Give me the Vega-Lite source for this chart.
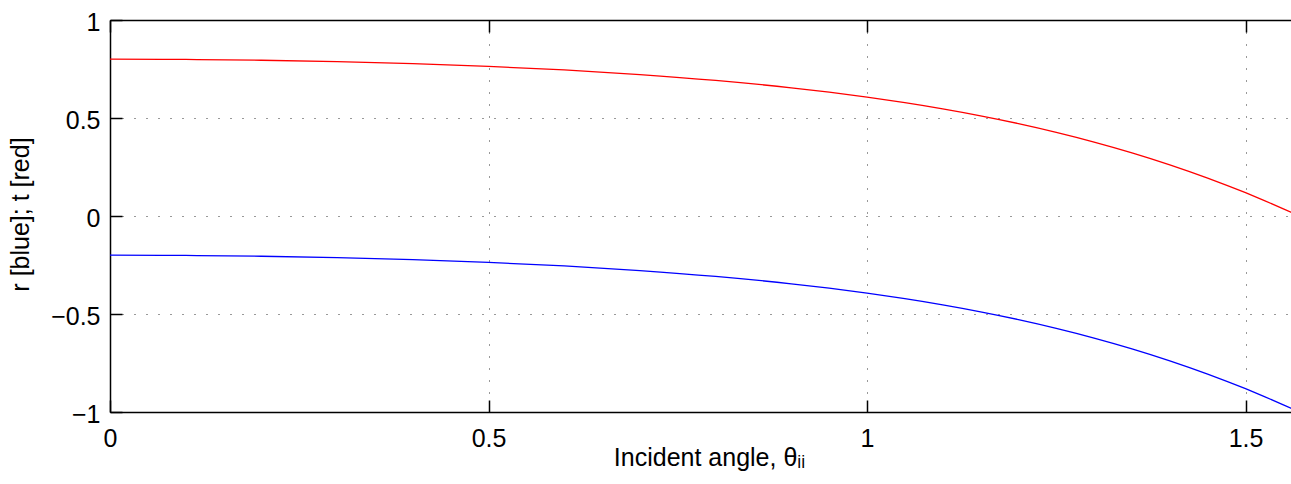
{
  "$schema": "https://vega.github.io/schema/vega-lite/v6.json",
  "autosize": "none",
  "padding": {"left": 110, "top": 20, "right": 0, "bottom": 72},
  "width": 1181,
  "height": 392,
  "background": "white",
  "config": {
    "view": {"stroke": null},
    "axis": {
      "domainColor": "#000",
      "domainWidth": 1.5,
      "tickColor": "#000",
      "tickWidth": 1.5,
      "tickSize": -12,
      "labelFont": "Liberation Sans",
      "labelFontSize": 25,
      "labelColor": "#000",
      "labelFlush": false,
      "titleFont": "Liberation Sans",
      "titleFontSize": 25,
      "titleFontWeight": "normal",
      "titleColor": "#000",
      "gridColor": "#000",
      "gridDash": [1, 11],
      "gridWidth": 1,
      "gridOpacity": 0.8
    }
  },
  "data": {
    "values": [
      {"theta": 0, "value": -0.2, "series": "r"},
      {"theta": 0.1, "value": -0.20134, "series": "r"},
      {"theta": 0.2, "value": -0.20541, "series": "r"},
      {"theta": 0.3, "value": -0.2124, "series": "r"},
      {"theta": 0.4, "value": -0.22261, "series": "r"},
      {"theta": 0.5, "value": -0.23652, "series": "r"},
      {"theta": 0.6, "value": -0.25478, "series": "r"},
      {"theta": 0.7, "value": -0.27827, "series": "r"},
      {"theta": 0.8, "value": -0.30815, "series": "r"},
      {"theta": 0.9, "value": -0.34596, "series": "r"},
      {"theta": 0.95, "value": -0.36842, "series": "r"},
      {"theta": 1.0, "value": -0.39362, "series": "r"},
      {"theta": 1.05, "value": -0.42187, "series": "r"},
      {"theta": 1.1, "value": -0.45355, "series": "r"},
      {"theta": 1.15, "value": -0.48901, "series": "r"},
      {"theta": 1.2, "value": -0.52868, "series": "r"},
      {"theta": 1.25, "value": -0.57301, "series": "r"},
      {"theta": 1.3, "value": -0.62247, "series": "r"},
      {"theta": 1.35, "value": -0.67752, "series": "r"},
      {"theta": 1.4, "value": -0.73868, "series": "r"},
      {"theta": 1.45, "value": -0.80642, "series": "r"},
      {"theta": 1.5, "value": -0.88121, "series": "r"},
      {"theta": 1.525, "value": -0.9214, "series": "r"},
      {"theta": 1.55, "value": -0.96349, "series": "r"},
      {"theta": 1.56, "value": -0.98087, "series": "r"},
      {"theta": 1.5708, "value": -1.0, "series": "r"},
      {"theta": 0, "value": 0.8, "series": "t"},
      {"theta": 0.1, "value": 0.79866, "series": "t"},
      {"theta": 0.2, "value": 0.79459, "series": "t"},
      {"theta": 0.3, "value": 0.7876, "series": "t"},
      {"theta": 0.4, "value": 0.77739, "series": "t"},
      {"theta": 0.5, "value": 0.76348, "series": "t"},
      {"theta": 0.6, "value": 0.74522, "series": "t"},
      {"theta": 0.7, "value": 0.72173, "series": "t"},
      {"theta": 0.8, "value": 0.69185, "series": "t"},
      {"theta": 0.9, "value": 0.65404, "series": "t"},
      {"theta": 0.95, "value": 0.63158, "series": "t"},
      {"theta": 1.0, "value": 0.60638, "series": "t"},
      {"theta": 1.05, "value": 0.57813, "series": "t"},
      {"theta": 1.1, "value": 0.54645, "series": "t"},
      {"theta": 1.15, "value": 0.51099, "series": "t"},
      {"theta": 1.2, "value": 0.47132, "series": "t"},
      {"theta": 1.25, "value": 0.42699, "series": "t"},
      {"theta": 1.3, "value": 0.37753, "series": "t"},
      {"theta": 1.35, "value": 0.32248, "series": "t"},
      {"theta": 1.4, "value": 0.26132, "series": "t"},
      {"theta": 1.45, "value": 0.19358, "series": "t"},
      {"theta": 1.5, "value": 0.11879, "series": "t"},
      {"theta": 1.525, "value": 0.0786, "series": "t"},
      {"theta": 1.55, "value": 0.03651, "series": "t"},
      {"theta": 1.56, "value": 0.01913, "series": "t"},
      {"theta": 1.5708, "value": 0.0, "series": "t"}
    ]
  },
  "layer": [
    {
      "mark": {"type": "line", "strokeWidth": 1.3, "clip": true, "interpolate": "monotone"},
      "encoding": {
        "x": {
          "field": "theta",
          "type": "quantitative",
          "scale": {"domain": [0, 1.5601], "nice": false, "zero": false},
          "axis": {
            "orient": "bottom",
            "values": [0, 0.5, 1, 1.5],
            "format": "~g",
            "grid": true,
            "labelPadding": 26,
            "labelBaseline": "top",
            "title": "Incident angle, θᵢᵢ",
            "titleX": 599,
            "titleY": 53,
            "titleAlign": "center",
            "titleBaseline": "alphabetic"
          }
        },
        "y": {
          "field": "value",
          "type": "quantitative",
          "scale": {"domain": [-1, 1], "nice": false, "zero": false},
          "axis": {
            "orient": "left",
            "values": [-1, -0.5, 0, 0.5, 1],
            "format": "~g",
            "grid": true,
            "labelPadding": 22,
            "labelOffset": 2,
            "title": "r [blue]; t [red]",
            "titleX": -81.7,
            "titleY": 194,
            "titleAngle": -90,
            "titleAlign": "center",
            "titleBaseline": "alphabetic"
          }
        },
        "color": {
          "field": "series",
          "type": "nominal",
          "scale": {"domain": ["r", "t"], "range": ["#0000ff", "#ff0000"]},
          "legend": null
        }
      }
    },
    {
      "mark": {"type": "point", "opacity": 0, "clip": true},
      "encoding": {
        "x": {
          "field": "theta",
          "type": "quantitative",
          "scale": {"domain": [0, 1.5601], "nice": false, "zero": false},
          "axis": {
            "orient": "top",
            "values": [0, 0.5, 1, 1.5],
            "labels": false,
            "grid": false,
            "title": null
          }
        }
      }
    }
  ],
  "resolve": {"axis": {"x": "independent"}}
}
